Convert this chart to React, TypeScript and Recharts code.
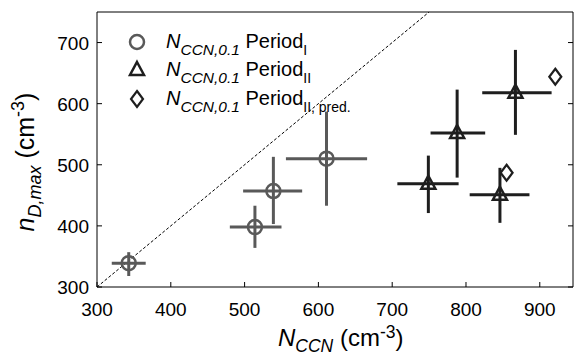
import { ScatterChart, Scatter, XAxis, YAxis, ErrorBar, ReferenceLine } from 'recharts'

const FONT = '"Liberation Sans", Arial, Helvetica, sans-serif'
const GRAY = '#595959'
const DARK = '#1e1e1e'

// Period I
const p1X = [343, 514, 539, 611]
const p1Y = [339, 398, 457, 510]
const p1XLo = [320, 480, 498, 556]
const p1XHi = [366, 550, 578, 666]
const p1YLo = [318, 364, 403, 433]
const p1YHi = [357, 433, 513, 587]

// Period II
const p2X = [749, 788, 846, 867]
const p2Y = [469, 552, 451, 618]
const p2XLo = [707, 752, 805, 822]
const p2XHi = [790, 826, 886, 916]
const p2YLo = [421, 479, 405, 549]
const p2YHi = [515, 623, 495, 688]

// Period II, predicted
const predX = [855, 921]
const predY = [487, 644]

const xTicks = [300, 400, 500, 600, 700, 800, 900]
const yTicks = [300, 400, 500, 600, 700]

const rows = (xs: number[], ys: number[], xlo: number[], xhi: number[], ylo: number[], yhi: number[]) =>
    xs.map((x, i) => ({
        x,
        y: ys[i],
        ex: [x - xlo[i], xhi[i] - x],
        ey: [ys[i] - ylo[i], yhi[i] - ys[i]],
    }))

const period1 = rows(p1X, p1Y, p1XLo, p1XHi, p1YLo, p1YHi)
const period2 = rows(p2X, p2Y, p2XLo, p2XHi, p2YLo, p2YHi)
const predicted = predX.map((x, i) => ({ x, y: predY[i] }))

const circleShape = (p: any) => (
    <circle cx={p.cx} cy={p.cy} r={7} fill="none" stroke={GRAY} strokeWidth={2.5} />
)
const triangleShape = (p: any) => (
    <polygon
        points={`${p.cx},${p.cy - 8} ${p.cx + 7},${p.cy + 5} ${p.cx - 7},${p.cy + 5}`}
        fill="none"
        stroke={DARK}
        strokeWidth={2.5}
    />
)
const diamondShape = (p: any) => (
    <polygon
        points={`${p.cx},${p.cy - 8} ${p.cx + 6},${p.cy} ${p.cx},${p.cy + 8} ${p.cx - 6},${p.cy}`}
        fill="none"
        stroke={DARK}
        strokeWidth={2.2}
    />
)

// ticks point inward on all four sides
const bottomTick = (p: any) => (
    <g>
        <line x1={p.x} x2={p.x} y1={p.y} y2={p.y - 5} stroke="#000" />
        <text x={p.x} y={p.y + 29} textAnchor="middle" fontSize={19} fontFamily={FONT} fill="#000">
            {p.payload.value}
        </text>
    </g>
)
const leftTick = (p: any) => (
    <g>
        <line x1={p.x} x2={p.x + 5} y1={p.y} y2={p.y} stroke="#000" />
        <text x={p.x - 8} y={p.y + 7} textAnchor="end" fontSize={19} fontFamily={FONT} fill="#000">
            {p.payload.value}
        </text>
    </g>
)
const topTick = (p: any) => <line x1={p.x} x2={p.x} y1={p.y} y2={p.y + 5} stroke="#000" />
const rightTick = (p: any) => <line x1={p.x} x2={p.x - 5} y1={p.y} y2={p.y} stroke="#000" />

const XTitle = () => (
    <text x={278} y={346} fontSize={24} fontFamily={FONT} fill="#000">
        <tspan fontStyle="italic">N</tspan>
        <tspan fontStyle="italic" fontSize={17.5} dy={6}>CCN</tspan>
        <tspan dy={-6}> (cm</tspan>
        <tspan fontSize={17.5} dy={-8}>-3</tspan>
        <tspan dy={8}>)</tspan>
    </text>
)

const YTitle = () => (
    <text
        x={0}
        y={0}
        transform="translate(34,162) rotate(-90)"
        textAnchor="middle"
        fontSize={25}
        fontFamily={FONT}
        fill="#000"
    >
        <tspan fontStyle="italic">n</tspan>
        <tspan fontStyle="italic" fontSize={18} dy={7}>D,max</tspan>
        <tspan dy={-7}> (cm</tspan>
        <tspan fontSize={18} dy={-10}>-3</tspan>
        <tspan dy={10}>)</tspan>
    </text>
)

const legendItems = [
    { sub: 'I', shape: 'circle' },
    { sub: 'II', shape: 'triangle' },
    { sub: 'II, pred.', shape: 'diamond' },
]
const legendRowY = [42, 70, 99]

function LegendOverlay() {
    return (
        <svg width={574} height={356} style={{ position: 'absolute', left: 0, top: 0, pointerEvents: 'none' }}>
            {legendItems.map((it, i) => {
                const cy = legendRowY[i]
                const cx = 137
                return (
                    <g key={it.sub}>
                        {it.shape === 'circle' && circleShape({ cx, cy })}
                        {it.shape === 'triangle' && triangleShape({ cx, cy })}
                        {it.shape === 'diamond' && diamondShape({ cx, cy })}
                        <text x={166} y={cy + 6} fontSize={20} fontFamily={FONT} fill="#000">
                            <tspan fontStyle="italic">N</tspan>
                            <tspan fontStyle="italic" fontSize={15.5} dy={7}>CCN,0.1</tspan>
                            <tspan dy={-7}> Period</tspan>
                            <tspan fontSize={14} dy={7}>{it.sub}</tspan>
                        </text>
                    </g>
                )
            })}
        </svg>
    )
}

export default function App() {
    return (
        <div style={{ position: 'absolute', left: 0, top: 0, width: 574, height: 356, background: '#fff' }}>
            <ScatterChart width={574} height={356} margin={{ top: 11, right: 0, bottom: 0, left: 0 }}>
                <XAxis
                    dataKey="x"
                    type="number"
                    domain={[300, 945]}
                    allowDataOverflow
                    ticks={xTicks}
                    height={69}
                    tickSize={0}
                    tickMargin={0}
                    tickLine={false}
                    tick={bottomTick}
                    axisLine={{ stroke: '#000' }}
                    label={<XTitle />}
                />
                <XAxis
                    xAxisId="top"
                    orientation="top"
                    type="number"
                    domain={[300, 945]}
                    allowDataOverflow
                    ticks={xTicks}
                    height={1}
                    tickSize={0}
                    tickMargin={0}
                    tickLine={false}
                    tick={topTick}
                    axisLine={{ stroke: '#000' }}
                />
                <YAxis
                    dataKey="y"
                    type="number"
                    domain={[300, 750]}
                    allowDataOverflow
                    ticks={yTicks}
                    width={97}
                    tickSize={0}
                    tickMargin={0}
                    tickLine={false}
                    tick={leftTick}
                    axisLine={{ stroke: '#000' }}
                    label={<YTitle />}
                />
                <YAxis
                    yAxisId="right"
                    orientation="right"
                    type="number"
                    domain={[300, 750]}
                    allowDataOverflow
                    ticks={yTicks}
                    width={1}
                    tickSize={0}
                    tickMargin={0}
                    tickLine={false}
                    tick={rightTick}
                    axisLine={{ stroke: '#000' }}
                />
                <ReferenceLine
                    segment={[{ x: 300, y: 300 }, { x: 750, y: 750 }]}
                    stroke="#000"
                    strokeWidth={1}
                    strokeDasharray="3 2"
                />
                <Scatter data={period1} shape={circleShape} isAnimationActive={false}>
                    <ErrorBar dataKey="ex" direction="x" width={0} stroke={GRAY} strokeWidth={3} />
                    <ErrorBar dataKey="ey" direction="y" width={0} stroke={GRAY} strokeWidth={3} />
                </Scatter>
                <Scatter data={period2} shape={triangleShape} isAnimationActive={false}>
                    <ErrorBar dataKey="ex" direction="x" width={0} stroke={DARK} strokeWidth={3} />
                    <ErrorBar dataKey="ey" direction="y" width={0} stroke={DARK} strokeWidth={3} />
                </Scatter>
                <Scatter data={predicted} shape={diamondShape} isAnimationActive={false} />
            </ScatterChart>
            <LegendOverlay />
        </div>
    )
}
